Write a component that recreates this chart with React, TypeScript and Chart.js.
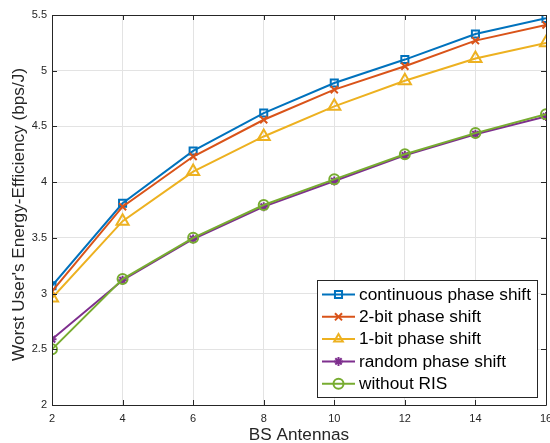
import React, { useEffect, useRef } from "react";
import { Chart, registerables } from "chart.js";
import { drawPoint } from "chart.js/helpers";

Chart.register(...registerables);

const antennas = [2, 4, 6, 8, 10, 12, 14, 16];
const continuousPS = [3.07, 3.81, 4.28, 4.62, 4.89, 5.1, 5.33, 5.47];
const twoBitPS = [3.02, 3.78, 4.23, 4.56, 4.83, 5.04, 5.27, 5.41];
const oneBitPS = [2.96, 3.65, 4.095, 4.41, 4.68, 4.91, 5.11, 5.25];
const randomPS = [2.59, 3.12, 3.49, 3.78, 4.01, 4.24, 4.43, 4.59];
const withoutRIS = [2.5, 3.13, 3.5, 3.795, 4.025, 4.25, 4.44, 4.61];

const seriesNames = [
  "continuous phase shift",
  "2-bit phase shift",
  "1-bit phase shift",
  "random phase shift",
  "without RIS",
];
const seriesColors = ["#0072BD", "#D95319", "#EDB120", "#7E2F8E", "#77AC30"];
const seriesMarkers = ["rect", "crossRot", "triangle", "star", "circle"];
const markerRadius = [5, 5, 7, 4.5, 5];

const xTicks = [2, 4, 6, 8, 10, 12, 14, 16];
const yTicks = [2, 2.5, 3, 3.5, 4, 4.5, 5, 5.5];
const xTitle = "BS Antennas";
const yTitle = "Worst User's Energy-Efficiency (bps/J)";

const FONT = "'Liberation Sans', Arial, Helvetica, sans-serif";
const AXIS_COLOR = "#262626";
const CANVAS_W = 555;

const boxPlugin = {
  id: "matlabBox",
  afterDatasetsDraw(chart: any) {
    const { ctx, chartArea } = chart;
    const { left, right, top, bottom } = chartArea;
    const xs = chart.scales.x;
    const ys = chart.scales.y;
    ctx.save();
    ctx.strokeStyle = AXIS_COLOR;
    ctx.lineWidth = 1;
    ctx.beginPath();
    ctx.rect(Math.round(left) + 0.5, Math.round(top) + 0.5, Math.round(right - left), Math.round(bottom - top));
    ctx.stroke();
    const tl = 5;
    ctx.beginPath();
    xTicks.forEach((v) => {
      const px = Math.round(xs.getPixelForValue(v)) + 0.5;
      ctx.moveTo(px, bottom);
      ctx.lineTo(px, bottom - tl);
      ctx.moveTo(px, top);
      ctx.lineTo(px, top + tl);
    });
    yTicks.forEach((v) => {
      const py = Math.round(ys.getPixelForValue(v)) + 0.5;
      ctx.moveTo(left, py);
      ctx.lineTo(left + tl, py);
      ctx.moveTo(right, py);
      ctx.lineTo(right - tl, py);
    });
    ctx.stroke();

    // axis titles
    ctx.fillStyle = AXIS_COLOR;
    ctx.font = `17.2px ${FONT}`;
    ctx.textAlign = "center";
    ctx.textBaseline = "middle";
    ctx.fillText(xTitle, (left + right) / 2, bottom + 30);
    ctx.save();
    ctx.translate(19, (top + bottom) / 2 + 4.5);
    ctx.rotate(-Math.PI / 2);
    ctx.fillText(yTitle, 0, 0);
    ctx.restore();
    ctx.restore();
  },
  afterDraw(chart: any) {
    const { ctx, chartArea } = chart;
    const boxRight = chartArea.right - 9;
    const boxBottom = chartArea.bottom - 8;
    const boxW = 220;
    const rowH = 22.3;
    const boxH = 117;
    const boxLeft = boxRight - boxW;
    const boxTop = boxBottom - boxH;
    ctx.save();
    ctx.fillStyle = "#ffffff";
    ctx.fillRect(boxLeft, boxTop, boxW, boxH);
    ctx.strokeStyle = AXIS_COLOR;
    ctx.lineWidth = 1;
    ctx.strokeRect(Math.round(boxLeft) + 0.5, Math.round(boxTop) + 0.5, Math.round(boxW), Math.round(boxH));
    ctx.font = `17.3px ${FONT}`;
    ctx.textBaseline = "middle";
    ctx.textAlign = "left";
    chart.data.datasets.forEach((ds: any, i: number) => {
      const y = boxTop + 14.5 + i * rowH;
      const x0 = boxLeft + 5;
      const x1 = boxLeft + 38;
      ctx.strokeStyle = ds.borderColor;
      ctx.lineWidth = 2;
      ctx.beginPath();
      ctx.moveTo(x0, y);
      ctx.lineTo(x1, y);
      ctx.stroke();
      ctx.fillStyle = "rgba(0,0,0,0)";
      ctx.lineWidth = 2;
      drawPoint(ctx, { pointStyle: ds.pointStyle, rotation: 0, borderWidth: 2, radius: Math.min(ds.pointRadius, 5) } as any, (x0 + x1) / 2, y);
      ctx.fillStyle = "#000000";
      ctx.fillText(ds.label, boxLeft + 42, y + 0.5);
    });
    ctx.restore();
  },
};

export default function App() {
  const ref = useRef<HTMLCanvasElement | null>(null);
  useEffect(() => {
    document.body.style.margin = "0";
    const canvas = ref.current!;
    const allSeries = [continuousPS, twoBitPS, oneBitPS, randomPS, withoutRIS];
    const chart = new Chart(canvas, {
      type: "line",
      data: {
        datasets: allSeries.map((vals, i) => ({
          label: seriesNames[i],
          data: antennas.map((x, j) => ({ x, y: vals[j] })),
          borderColor: seriesColors[i],
          backgroundColor: "rgba(0,0,0,0)",
          pointBackgroundColor: "rgba(0,0,0,0)",
          pointBorderColor: seriesColors[i],
          pointStyle: seriesMarkers[i] as any,
          pointRadius: markerRadius[i],
          pointBorderWidth: 2,
          borderWidth: 2,
          tension: 0,
          order: 4 - i,
        })),
      },
      options: {
        animation: false,
        responsive: false,
        devicePixelRatio: 1,
        layout: { padding: { top: 15, right: 4, left: 0, bottom: 0 } },
        plugins: { legend: { display: false }, tooltip: { enabled: false } },
        scales: {
          x: {
            type: "linear",
            min: 2,
            max: 16,
            afterBuildTicks: (axis: any) => {
              axis.ticks = xTicks.map((v) => ({ value: v }));
            },
            afterFit: (axis: any) => {
              axis.height = 38;
              axis.paddingLeft = 0;
              axis.paddingRight = 0;
            },
            grid: { color: "#e3e3e3", lineWidth: 1, drawTicks: false },
            border: { display: false },
            ticks: {
              padding: 7,
              maxRotation: 0,
              autoSkip: false,
              color: AXIS_COLOR,
              font: { family: FONT, size: 11 },
              callback: (v: any) => String(v),
            },
            title: { display: false },
          },
          y: {
            type: "linear",
            min: 2,
            max: 5.5,
            afterBuildTicks: (axis: any) => {
              axis.ticks = yTicks.map((v) => ({ value: v }));
            },
            afterFit: (axis: any) => {
              axis.width = 52;
              axis.paddingTop = 0;
              axis.paddingBottom = 0;
            },
            grid: { color: "#e3e3e3", lineWidth: 1, drawTicks: false },
            border: { display: false },
            ticks: {
              padding: 5,
              autoSkip: false,
              color: AXIS_COLOR,
              font: { family: FONT, size: 11 },
              callback: (v: any) => String(v),
            },
            title: { display: false },
          },
        },
      },
      plugins: [boxPlugin],
    });
    return () => chart.destroy();
  }, []);
  return (
    <div style={{ position: "absolute", left: 0, top: 0, width: 550, height: 443, overflow: "hidden", background: "#fff" }}>
      <canvas ref={ref} width={CANVAS_W} height={443} style={{ width: CANVAS_W, height: 443 }} />
    </div>
  );
}
